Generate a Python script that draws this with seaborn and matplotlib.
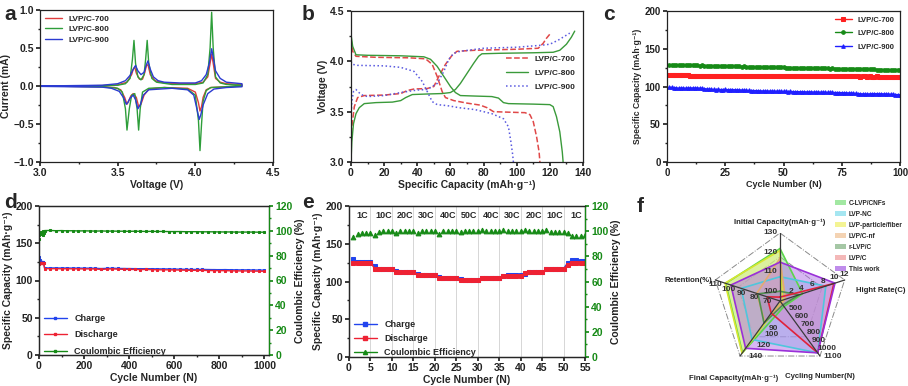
import matplotlib
matplotlib.use("Agg")
import matplotlib.pyplot as plt
from matplotlib.patches import Patch
from matplotlib.lines import Line2D
from matplotlib.ticker import MultipleLocator
import seaborn as sns
import numpy as np

# ---------------- data ----------------
# (a) cyclic voltammetry, anodic + cathodic branch for each sample
cv700_v = [3.0, 3.4, 3.5, 3.56, 3.59, 3.60, 3.61, 3.62, 3.64, 3.66, 3.675, 3.685, 3.695, 3.71, 3.74, 3.8, 3.9, 4.0,
           4.05, 4.08, 4.095, 4.105, 4.115, 4.13, 4.16, 4.2, 4.3,
           4.3, 4.2, 4.1, 4.07, 4.05, 4.04, 4.03, 4.02, 4.0, 3.95, 3.8, 3.7, 3.67, 3.65, 3.635, 3.62, 3.6, 3.585,
           3.57, 3.56, 3.545, 3.52, 3.48, 3.4, 3.0]
cv700_i = [0.0, 0.005, 0.015, 0.05, 0.15, 0.22, 0.25, 0.17, 0.09, 0.09, 0.18, 0.27, 0.28, 0.15, 0.07, 0.04, 0.03, 0.03,
           0.05, 0.12, 0.3, 0.42, 0.3, 0.1, 0.05, 0.03, 0.02,
           0.0, -0.01, -0.02, -0.05, -0.15, -0.27, -0.33, -0.22, -0.08, -0.03, -0.02, -0.04, -0.12, -0.24, -0.27,
           -0.15, -0.1, -0.13, -0.2, -0.24, -0.15, -0.05, -0.02, -0.01, 0.0]
cv800_v = [3.0, 3.4, 3.5, 3.55, 3.58, 3.595, 3.605, 3.615, 3.63, 3.65, 3.67, 3.68, 3.69, 3.70, 3.72, 3.75, 3.85, 4.0,
           4.05, 4.08, 4.095, 4.105, 4.115, 4.13, 4.16, 4.2, 4.3,
           4.3, 4.2, 4.1, 4.07, 4.05, 4.04, 4.03, 4.02, 4.0, 3.95, 3.8, 3.7, 3.66, 3.645, 3.635, 3.625, 3.61, 3.59,
           3.575, 3.56, 3.55, 3.53, 3.5, 3.4, 3.0]
cv800_i = [0.0, 0.005, 0.01, 0.03, 0.1, 0.35, 0.6, 0.3, 0.12, 0.08, 0.15, 0.35, 0.6, 0.3, 0.1, 0.05, 0.02, 0.02,
           0.04, 0.15, 0.5, 0.97, 0.5, 0.12, 0.04, 0.02, 0.01,
           0.0, -0.01, -0.02, -0.06, -0.2, -0.5, -0.85, -0.45, -0.12, -0.04, -0.02, -0.03, -0.08, -0.3, -0.58,
           -0.3, -0.1, -0.12, -0.3, -0.58, -0.3, -0.08, -0.03, -0.01, 0.0]
cv900_v = [3.0, 3.4, 3.5, 3.55, 3.58, 3.60, 3.615, 3.63, 3.65, 3.67, 3.685, 3.695, 3.71, 3.73, 3.76, 3.8, 3.9, 4.0,
           4.04, 4.07, 4.09, 4.105, 4.115, 4.13, 4.16, 4.2, 4.3,
           4.3, 4.2, 4.12, 4.08, 4.05, 4.035, 4.025, 4.01, 3.99, 3.95, 3.85, 3.7, 3.665, 3.645, 3.63, 3.615, 3.6,
           3.58, 3.565, 3.555, 3.54, 3.51, 3.46, 3.4, 3.0]
cv900_i = [0.0, 0.01, 0.03, 0.07, 0.14, 0.22, 0.27, 0.2, 0.15, 0.18, 0.28, 0.33, 0.22, 0.12, 0.07, 0.05, 0.04, 0.04,
           0.07, 0.15, 0.3, 0.49, 0.38, 0.2, 0.1, 0.05, 0.03,
           -0.01, -0.02, -0.04, -0.1, -0.25, -0.38, -0.44, -0.3, -0.12, -0.05, -0.03, -0.05, -0.12, -0.25, -0.30,
           -0.18, -0.12, -0.16, -0.22, -0.24, -0.16, -0.07, -0.03, -0.015, -0.005]

# (b) charge / discharge profiles (capacity, voltage)
ch700_q = [0, 0.5, 2, 4, 8, 20, 30, 34, 38, 46, 50, 53, 57, 61, 64, 75, 100, 113, 116, 118, 120]
ch700_u = [3.2, 3.35, 3.55, 3.64, 3.66, 3.665, 3.68, 3.71, 3.725, 3.73, 3.75, 3.85, 3.97, 4.06, 4.1, 4.11, 4.12,
           4.13, 4.18, 4.23, 4.27]
dis700_q = [0, 1, 3, 15, 35, 45, 49, 52, 55, 57, 62, 70, 78, 82, 86, 95, 105, 108, 110, 112, 113.5, 114]
dis700_u = [4.22, 4.1, 4.05, 4.04, 4.035, 4.025, 3.97, 3.85, 3.7, 3.64, 3.61, 3.585, 3.565, 3.54, 3.5, 3.495, 3.49,
            3.47, 3.4, 3.25, 3.1, 3.0]
ch800_q = [0, 0.5, 1.5, 3, 5, 8, 15, 25, 30, 33, 37, 45, 55, 60, 63, 66, 70, 74, 77, 79, 90, 110, 122, 126, 130,
           133, 135]
ch800_u = [3.0, 3.2, 3.38, 3.48, 3.54, 3.58, 3.59, 3.595, 3.61, 3.64, 3.67, 3.675, 3.68, 3.69, 3.72, 3.78, 3.88,
           3.98, 4.05, 4.075, 4.08, 4.085, 4.09, 4.11, 4.17, 4.24, 4.3]
dis800_q = [0, 1, 3, 10, 30, 44, 48, 52, 56, 60, 63, 66, 75, 85, 89, 92, 95, 110, 120, 122, 124, 126, 127.5, 128]
dis800_u = [4.27, 4.15, 4.065, 4.06, 4.055, 4.045, 4.02, 3.95, 3.85, 3.75, 3.69, 3.66, 3.655, 3.65, 3.635, 3.59,
            3.58, 3.575, 3.57, 3.55, 3.45, 3.3, 3.1, 3.0]
ch900_q = [0, 0.5, 1.5, 3, 6, 10, 20, 30, 40, 46, 52, 56, 59, 62, 66, 80, 100, 115, 120, 125, 130, 132]
ch900_u = [3.45, 3.6, 3.7, 3.72, 3.67, 3.65, 3.66, 3.69, 3.715, 3.72, 3.78, 3.9, 4.02, 4.08, 4.1, 4.13, 4.14, 4.16,
           4.17, 4.21, 4.26, 4.28]
dis900_q = [0, 1, 4, 20, 30, 38, 43, 46, 49, 52, 58, 65, 75, 85, 92, 95, 96.5, 97.5, 98]
dis900_u = [4.0, 3.97, 3.96, 3.955, 3.94, 3.9, 3.8, 3.7, 3.6, 3.57, 3.56, 3.54, 3.52, 3.48, 3.43, 3.35, 3.2, 3.08,
            3.0]

# (c) cycling at constant rate, 100 cycles
cyc_c = list(range(1, 101))
cap700 = [115.0, 115.2, 114.9, 115.3, 115.6, 115.8, 115.4, 115.1, 114.6, 114.0,
          113.6, 113.5, 113.8, 113.9, 114.0, 114.1, 114.0, 114.2, 114.1, 114.3,
          114.2, 114.3, 114.2, 114.4, 114.3, 114.2, 114.4, 114.3, 114.2, 114.3,
          114.2, 114.3, 114.1, 114.2, 114.3, 114.1, 114.2, 114.0, 114.1, 114.2,
          114.0, 114.1, 114.2, 114.0, 114.1, 113.9, 114.0, 114.1, 113.9, 114.0,
          113.9, 114.0, 113.8, 113.9, 114.0, 113.8, 113.9, 113.7, 113.8, 113.9,
          113.7, 113.8, 113.6, 113.7, 113.8, 113.6, 113.7, 113.5, 113.6, 113.7,
          113.5, 113.6, 113.4, 113.5, 113.6, 113.4, 113.5, 113.3, 113.4, 113.5,
          113.3, 113.4, 113.2, 113.3, 113.4, 113.2, 113.3, 113.1, 113.2, 113.3,
          113.1, 113.2, 113.0, 113.1, 113.2, 113.0, 113.1, 112.9, 113.0, 113.0]
cap800 = [128.6, 128.8, 128.9, 128.7, 128.8, 128.5, 128.6, 128.3, 128.4, 128.2,
          128.0, 128.1, 127.9, 127.8, 127.9, 127.6, 127.7, 127.5, 127.4, 127.5,
          127.2, 127.3, 127.1, 127.0, 127.1, 126.9, 126.8, 126.9, 126.6, 126.7,
          126.5, 126.4, 126.5, 126.3, 126.2, 126.3, 126.0, 126.1, 125.9, 125.8,
          125.9, 125.7, 125.6, 125.7, 125.5, 125.4, 125.5, 125.3, 125.2, 125.3,
          125.1, 125.0, 125.1, 124.9, 124.8, 124.9, 124.7, 124.6, 124.7, 124.5,
          124.4, 124.5, 124.3, 124.2, 124.3, 124.1, 124.0, 124.1, 123.9, 123.8,
          123.9, 123.7, 123.6, 123.7, 123.5, 123.4, 123.5, 123.3, 123.2, 123.3,
          123.1, 123.0, 123.1, 122.9, 122.8, 122.9, 122.7, 122.6, 122.7, 122.5,
          122.4, 122.5, 122.3, 122.2, 122.3, 122.1, 122.0, 122.1, 121.9, 122.0]
cap900 = [99.2, 98.8, 98.5, 98.1, 97.8, 97.9, 98.0, 97.7, 97.9, 98.0,
          98.1, 97.9, 98.0, 97.8, 97.6, 97.2, 96.8, 96.5, 96.3, 96.1,
          96.0, 96.2, 95.9, 96.0, 96.1, 95.8, 95.9, 96.0, 95.7, 95.6,
          95.5, 95.3, 95.1, 94.9, 94.8, 94.7, 94.6, 94.5, 94.3, 94.2,
          94.1, 94.0, 93.9, 94.0, 93.8, 93.7, 93.8, 93.6, 93.5, 93.6,
          93.4, 93.3, 93.4, 93.2, 93.1, 93.2, 93.0, 92.9, 93.0, 92.8,
          92.7, 92.8, 92.6, 92.5, 92.6, 92.4, 92.3, 92.4, 92.2, 92.1,
          92.2, 92.0, 91.9, 92.0, 91.8, 91.7, 91.6, 91.5, 91.3, 91.1,
          90.8, 90.6, 90.4, 90.2, 90.1, 90.0, 90.2, 90.4, 90.6, 90.5,
          90.3, 90.4, 90.2, 90.1, 89.9, 89.8, 89.6, 89.4, 89.2, 89.0]

# (d) long cycling, read every cycle for the first 20, then every 25 cycles
cyc_d = list(range(1, 21)) + list(range(25, 1001, 25))
charge_d = [131, 128, 127, 126.5, 126, 126, 125.5, 125.5, 125.5, 125, 125, 125, 125, 124.5, 124.5, 124.5, 124.5,
            124, 124, 124,
            117.0, 116.8, 116.9, 116.7, 116.8, 116.6, 116.7, 116.5, 116.6, 116.4,
            116.0, 116.3, 116.5, 116.2, 116.1, 116.0, 115.9, 115.8, 115.9, 115.7,
            115.6, 115.5, 115.5, 115.3, 115.2, 115.0, 114.9, 114.8, 114.9, 114.7,
            114.6, 114.5, 114.6, 114.4, 114.3, 114.2, 114.3, 114.1, 114.0, 113.9]
discharge_d = [122, 123.5, 124, 124, 124, 124, 124, 124, 124, 124, 124, 124, 124, 124, 124, 124, 124, 124, 124, 124,
               116.0, 115.8, 115.9, 115.7, 115.8, 115.6, 115.7, 115.5, 115.6, 115.4,
               114.8, 115.3, 115.6, 115.2, 115.0, 114.9, 114.8, 114.7, 114.8, 114.6,
               114.4, 114.3, 114.3, 114.1, 114.0, 113.8, 113.7, 113.6, 113.6, 113.4,
               113.3, 113.2, 113.2, 113.0, 112.9, 112.8, 112.8, 112.6, 112.5, 112.4]
ce_d = [93.5, 96.5, 97.5, 98, 98, 98.5, 98, 98.5, 98, 99, 98.5, 97.5, 98.5, 98, 99, 98.5, 97, 98.5, 99.5, 98,
        100.2, 100.3, 100.1, 100.2, 100.0, 100.1, 99.9, 100.0, 99.9, 99.8,
        99.9, 99.8, 99.8, 99.7, 99.7, 99.6, 99.7, 99.6, 99.5, 99.6,
        99.5, 99.5, 99.4, 99.4, 99.4, 99.3, 99.3, 99.3, 99.2, 99.2,
        99.2, 99.1, 99.1, 99.1, 99.0, 99.0, 99.0, 99.0, 98.9, 98.9]

# (e) rate capability
cyc_e = list(range(1, 56))
charge_e = [130, 126, 126, 126, 126, 120, 117, 117, 117, 117, 114, 112, 112, 112, 112, 110, 108, 108, 108, 108,
            106, 105, 105, 105, 105, 103, 102, 102, 102, 102, 104, 104, 104, 104, 104, 107, 108, 108, 108, 108,
            110, 112, 112, 112, 112, 116, 117, 117, 117, 117, 125, 128, 128, 127.5, 127]
discharge_e = [124, 124.5, 125, 125, 125, 117, 117, 117, 117, 117, 112, 112, 112, 112, 112, 108, 108, 108, 108, 108,
               105, 105, 105, 105, 105, 102, 102, 102, 102, 102, 104, 104, 104, 104, 104, 107, 107, 107, 107, 107,
               111, 112, 112, 112, 112, 116, 117, 117, 117, 117, 122, 124, 124, 124, 124]
ce_e = [95, 98, 98.5, 98.5, 98.5, 97, 99.5, 100, 100, 100, 98.5, 100, 100, 100, 100, 98.5, 100, 100, 100, 100,
        98, 100, 100, 100, 100, 99, 100, 100, 100, 100, 101, 100, 100, 100, 100, 101, 100, 100, 100, 100,
        101, 100, 100, 100, 100, 101, 99.5, 99.5, 99.5, 99.5, 98.5, 96, 96.5, 96.5, 97]
rate_labels = ["1C", "10C", "20C", "30C", "40C", "50C", "40C", "30C", "20C", "10C", "1C"]

# (f) radar comparison
radar_axes = ["Initial Capacity(mAh·g⁻¹)", "Hight Rate(C)", "Cycling Number(N)",
              "Final Capacity(mAh·g⁻¹)", "Retention(%)"]
radar_lo = [95, 0, 400, 40, 60]
radar_hi = [130, 12, 1100, 140, 110]
radar_ticks = [[100, 110, 120, 130], [2, 4, 6, 8, 10, 12], [500, 600, 700, 800, 900, 1000, 1100],
               [90, 100, 120, 140], [70, 80, 90, 100, 110]]
materials = ["C-LVP/CNFs", "LVP-NC", "LVP-particle/fiber", "LVP/C-nf", "r-LVP/C", "LVP/C", "This work"]
radar_vals = [[122, 4.2, 470, 134, 102],
              [107.5, 8.5, 1060, 110, 90],
              [121, 0.5, 420, 135, 102.5],
              [117, 1, 430, 78, 78],
              [100, 3.5, 450, 80, 77],
              [97, 10, 1060, 62, 70],
              [115, 10.2, 1060, 126, 98]]
fill_cols = ["#8be38b", "#8fe0ee", "#f2f27a", "#f2c9a0", "#8fba8f", "#f2a6a6", "#b070e6"]
edge_cols = ["#5bd64a", "#4fc6dc", "#d8e630", "#e2aa72", "#4f8f4f", "#e0223a", "#9a30d8"]

# ---------------- style ----------------
sns.set_theme(style="ticks")
plt.rcParams["font.family"] = ["Liberation Sans", "DejaVu Sans"]
plt.rcParams["font.weight"] = "bold"
plt.rcParams["axes.labelweight"] = "bold"
plt.rcParams["font.size"] = 7
plt.rcParams["axes.labelsize"] = 7.5
plt.rcParams["axes.linewidth"] = 0.9
plt.rcParams["xtick.major.size"] = 3
plt.rcParams["ytick.major.size"] = 3
plt.rcParams["xtick.minor.size"] = 1.6
plt.rcParams["ytick.minor.size"] = 1.6
plt.rcParams["xtick.labelsize"] = 7.5
plt.rcParams["ytick.labelsize"] = 7.5
plt.rcParams["xtick.major.pad"] = 1.5
plt.rcParams["ytick.major.pad"] = 1.5
plt.rcParams["axes.labelpad"] = 1.5

W, H = 908, 386
fig = plt.figure(figsize=(W / 100, H / 100), dpi=100)


def px_axes(l, t, r, b, **kw):
    return fig.add_axes([l / W, (H - b) / H, (r - l) / W, (b - t) / H], **kw)


def frame(ax):
    for s in ax.spines.values():
        s.set_visible(True)
        s.set_color("#222222")
    ax.tick_params(which="both", direction="out", colors="#222222")


RED, GREEN, BLUE = "#e03c3c", "#2e9e3a", "#2b3bd1"

# ---- a ----
ax = px_axes(40, 10, 273, 162)
frame(ax)
for v, i, c, lab in [(cv700_v, cv700_i, RED, "LVP/C-700"), (cv800_v, cv800_i, GREEN, "LVP/C-800"),
                     (cv900_v, cv900_i, BLUE, "LVP/C-900")]:
    sns.lineplot(x=v, y=i, sort=False, estimator=None, ax=ax, color=c, lw=1.0, label=lab)
ax.set_xlim(3.0, 4.5)
ax.set_ylim(-1.0, 1.0)
ax.xaxis.set_major_locator(MultipleLocator(0.5))
ax.xaxis.set_minor_locator(MultipleLocator(0.25))
ax.yaxis.set_major_locator(MultipleLocator(0.5))
ax.yaxis.set_minor_locator(MultipleLocator(0.25))
ax.set_xlabel("Voltage (V)")
ax.set_ylabel("Current (mA)")
ax.legend(loc="upper left", frameon=False, handlelength=2.0, labelspacing=0.3,
          borderaxespad=0.2, prop={"weight": "bold", "size": 6})

# ---- b ----
ax = px_axes(351, 11, 583, 162)
frame(ax)
sns.lineplot(x=ch700_q, y=ch700_u, sort=False, estimator=None, ax=ax, color="#e04848", lw=1.1, ls="--",
             label="LVP/C-700")
sns.lineplot(x=dis700_q, y=dis700_u, sort=False, estimator=None, ax=ax, color="#e04848", lw=1.1, ls="--")
sns.lineplot(x=ch800_q, y=ch800_u, sort=False, estimator=None, ax=ax, color="#3a9a3a", lw=1.0, label="LVP/C-800")
sns.lineplot(x=dis800_q, y=dis800_u, sort=False, estimator=None, ax=ax, color="#3a9a3a", lw=1.0)
sns.lineplot(x=ch900_q, y=ch900_u, sort=False, estimator=None, ax=ax, color="#5a5ae0", lw=1.1, ls=":",
             label="LVP/C-900")
sns.lineplot(x=dis900_q, y=dis900_u, sort=False, estimator=None, ax=ax, color="#5a5ae0", lw=1.1, ls=":")
ax.set_xlim(0, 140)
ax.set_ylim(3.0, 4.5)
ax.xaxis.set_major_locator(MultipleLocator(20))
ax.xaxis.set_minor_locator(MultipleLocator(10))
ax.yaxis.set_major_locator(MultipleLocator(0.5))
ax.yaxis.set_minor_locator(MultipleLocator(0.25))
ax.set_xlabel("Specific Capacity (mAh·g⁻¹)")
ax.set_ylabel("Voltage (V)")
ax.legend(loc="center right", bbox_to_anchor=(1.0, 0.59), frameon=False, handlelength=2.6, labelspacing=0.75,
          prop={"weight": "bold", "size": 6})

# ---- c ----
ax = px_axes(667, 11, 900, 162)
frame(ax)
sns.lineplot(x=cyc_c, y=cap700, ax=ax, color="#ff2020", lw=1.0, marker="s", ms=2.6, mec="#ff2020",
             label="LVP/C-700")
sns.lineplot(x=cyc_c, y=cap800, ax=ax, color="#168a16", lw=1.0, marker="o", ms=2.6, mec="#168a16",
             label="LVP/C-800")
sns.lineplot(x=cyc_c, y=cap900, ax=ax, color="#1f1fff", lw=1.0, marker="^", ms=2.6, mec="#1f1fff",
             label="LVP/C-900")
ax.set_xlim(0, 100)
ax.set_ylim(0, 200)
ax.xaxis.set_major_locator(MultipleLocator(25))
ax.xaxis.set_minor_locator(MultipleLocator(12.5))
ax.yaxis.set_major_locator(MultipleLocator(50))
ax.yaxis.set_minor_locator(MultipleLocator(25))
ax.set_xlabel("Cycle Number (N)", fontsize=6.5)
ax.set_ylabel("Specific Capacity (mAh·g⁻¹)", fontsize=6.2)
ax.tick_params(labelsize=7)
ax.legend(loc="upper right", frameon=False, handlelength=2.2, labelspacing=0.8, borderaxespad=0.3,
          prop={"weight": "bold", "size": 5.5})

# ---- d ----
ax = px_axes(39, 206, 269, 355)
frame(ax)
ax2 = ax.twinx()
sns.lineplot(x=cyc_d, y=charge_d, ax=ax, color="#2244ee", lw=1.0, marker="s", ms=1.8, mec="#2244ee")
sns.lineplot(x=cyc_d, y=discharge_d, ax=ax, color="#ee2233", lw=1.0, marker="s", ms=1.8, mec="#ee2233")
sns.lineplot(x=cyc_d, y=ce_d, ax=ax2, color="#168a16", lw=1.0, marker="s", ms=1.8, mec="#168a16")
ax.set_xlim(0, 1020)
ax.set_ylim(0, 200)
ax2.set_ylim(0, 120)
ax.xaxis.set_major_locator(MultipleLocator(200))
ax.xaxis.set_minor_locator(MultipleLocator(100))
ax.yaxis.set_major_locator(MultipleLocator(50))
ax.yaxis.set_minor_locator(MultipleLocator(25))
ax2.yaxis.set_major_locator(MultipleLocator(20))
ax2.yaxis.set_minor_locator(MultipleLocator(10))
ax.set_xlabel("Cycle Number (N)")
ax.set_ylabel("Specific Capacity (mAh·g⁻¹)")
ax2.set_ylabel("Coulombic Efficiency (%)")
ax2.spines["right"].set_color("#168a16")
ax2.tick_params(axis="y", which="both", direction="out", colors="#168a16")
ax2.yaxis.label.set_color("#222222")
hd = [Line2D([], [], color=c, marker="s", ms=1.8, lw=1.0) for c in ["#2244ee", "#ee2233", "#168a16"]]
ax.legend(hd, ["Charge", "Discharge", "Coulombic Efficiency"], loc="lower left", bbox_to_anchor=(0.0, -0.035),
          frameon=False, handlelength=2.6, labelspacing=0.8, borderaxespad=0.1,
          prop={"weight": "bold", "size": 6.5})

# ---- e ----
ax = px_axes(349, 206, 585, 357)
frame(ax)
ax2 = ax.twinx()
for xv in range(5, 55, 5):
    ax.axvline(xv, color="#d0d0d0", lw=0.6, zorder=0)
sns.lineplot(x=cyc_e, y=charge_e, ax=ax, color="#2244ee", lw=1.0, marker="s", ms=3, mec="#2244ee")
sns.lineplot(x=cyc_e, y=discharge_e, ax=ax, color="#ee2233", lw=1.0, marker="s", ms=3, mec="#ee2233")
sns.lineplot(x=cyc_e, y=ce_e, ax=ax2, color="#168a16", lw=0, marker="^", ms=3.4, mec="#168a16")
for k, lab in enumerate(rate_labels):
    ax.text(5 * k + 3, 188, lab, ha="center", va="center", fontsize=6.5, fontweight="bold")
ax.set_xlim(0, 55)
ax.set_ylim(0, 200)
ax2.set_ylim(0, 120)
ax.xaxis.set_major_locator(MultipleLocator(5))
ax.yaxis.set_major_locator(MultipleLocator(50))
ax.yaxis.set_minor_locator(MultipleLocator(25))
ax2.yaxis.set_major_locator(MultipleLocator(20))
ax2.yaxis.set_minor_locator(MultipleLocator(10))
ax.set_xlabel("Cycle Number (N)")
ax.set_ylabel("Specific Capacity (mAh·g⁻¹)")
ax2.set_ylabel("Coulombic Efficiency (%)")
ax2.spines["right"].set_color("#168a16")
ax2.tick_params(axis="y", which="both", direction="out", colors="#168a16")
ax2.yaxis.label.set_color("#222222")
he = [Line2D([], [], color="#2244ee", marker="s", ms=3, lw=1.0),
      Line2D([], [], color="#ee2233", marker="s", ms=3, lw=1.0),
      Line2D([], [], color="#168a16", marker="^", ms=3, lw=1.0)]
ax.legend(he, ["Charge", "Discharge", "Coulombic Efficiency"], loc="lower left", bbox_to_anchor=(0.0, -0.03),
          frameon=False, handlelength=2.6, labelspacing=0.55, borderaxespad=0.1,
          prop={"weight": "bold", "size": 6.5})

# ---- f (radar) ----
axf = px_axes(712, 233, 848, 369)
axf.set_xlim(-1, 1)
axf.set_ylim(-1, 1)
axf.axis("off")
ang = np.deg2rad([90, 18, -54, -126, 162])
cs, sn = np.cos(ang), np.sin(ang)
ring = np.append(np.arange(5), 0)
for lev in [1.0, 0.65]:
    axf.plot(lev * cs[ring], lev * sn[ring], color="#8a8a8a", lw=0.7, ls="-.", zorder=1)
for k in range(5):
    axf.plot([0, cs[k]], [0, sn[k]], color="#3a3a3a", lw=0.9, zorder=4)
for vals, fc, ec in zip(radar_vals, fill_cols, edge_cols):
    r = np.array([(v - lo) / (hi - lo) for v, lo, hi in zip(vals, radar_lo, radar_hi)])
    axf.fill(r * cs, r * sn, color=fc, alpha=0.5, lw=0, zorder=2)
    axf.plot((r * cs)[ring], (r * sn)[ring], color=ec, lw=1.2, zorder=3)

offs = [(-2, 0, "right", "center"), (0, 1.5, "center", "bottom"), (2.5, 0, "left", "center"),
        (6, 0, "left", "center"), (0, -1, "center", "top")]
for k in range(5):
    dx, dy, ha, va = offs[k]
    for t in radar_ticks[k]:
        rr = (t - radar_lo[k]) / (radar_hi[k] - radar_lo[k])
        axf.annotate(str(t), (rr * cs[k], rr * sn[k]), xytext=(dx, dy), textcoords="offset points",
                     ha=ha, va=va, fontsize=6, fontweight="bold", color="#333333", zorder=5,
                     annotation_clip=False)

fs_f = 5.6
fig.text(780 / W, 1 - 222 / H, radar_axes[0], ha="center", va="center", fontsize=fs_f, fontweight="bold")
fig.text(856 / W, 1 - 290 / H, radar_axes[1], ha="left", va="center", fontsize=fs_f, fontweight="bold")
fig.text(820 / W, 1 - 377 / H, radar_axes[2], ha="center", va="center", fontsize=fs_f, fontweight="bold")
fig.text(734 / W, 1 - 378 / H, radar_axes[3], ha="center", va="center", fontsize=fs_f, fontweight="bold")
fig.text(712 / W, 1 - 280 / H, radar_axes[4], ha="right", va="center", fontsize=fs_f, fontweight="bold")

hf = [Patch(facecolor=fc, edgecolor="none", alpha=0.8) for fc in fill_cols]
fig.legend(hf, materials, loc="upper left", bbox_to_anchor=(832 / W, 1 - 197 / H), frameon=False,
           handlelength=1.7, handleheight=0.9, labelspacing=0.62, handletextpad=0.5, borderaxespad=0,
           prop={"weight": "bold", "size": 4.7})

# panel letters
for txt, x, y in [("a", 4, 14), ("b", 302, 14), ("c", 603, 14), ("d", 4, 203), ("e", 302, 203), ("f", 637, 207)]:
    fig.text(x / W, 1 - y / H, txt, ha="left", va="center", fontsize=15, fontweight="bold")

fig.savefig("out.png", dpi=100)
